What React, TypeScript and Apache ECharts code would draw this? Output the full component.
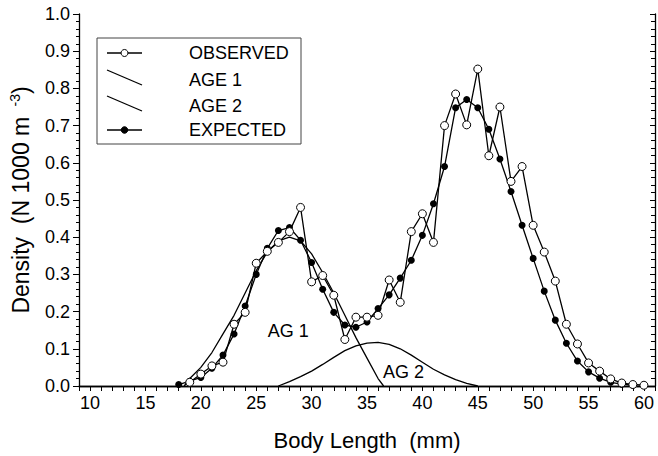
import React, { useEffect, useRef } from 'react';
import * as echarts from 'echarts';

const observedLengths = [19, 20, 21, 22, 23, 24, 25, 26, 27, 28, 29, 30, 31, 32, 33, 34, 35, 36, 37, 38, 39, 40, 41, 42, 43, 44, 45, 46, 47, 48, 49, 50, 51, 52, 53, 54, 55, 56, 57, 58, 59, 60];
const observedValues = [0.01, 0.032, 0.054, 0.064, 0.166, 0.198, 0.33, 0.362, 0.386, 0.415, 0.48, 0.28, 0.297, 0.244, 0.125, 0.185, 0.185, 0.19, 0.285, 0.225, 0.415, 0.463, 0.386, 0.70, 0.785, 0.702, 0.852, 0.619, 0.75, 0.55, 0.59, 0.432, 0.36, 0.282, 0.166, 0.113, 0.062, 0.04, 0.019, 0.008, 0.004, 0.002];

const expectedLengths = [18, 19, 20, 21, 22, 23, 24, 25, 26, 27, 28, 29, 30, 31, 32, 33, 34, 35, 36, 37, 38, 39, 40, 41, 42, 43, 44, 45, 46, 47, 48, 49, 50, 51, 52, 53, 54, 55, 56, 57, 58, 59];
const expectedValues = [0.004, 0.013, 0.023, 0.048, 0.083, 0.14, 0.215, 0.30, 0.37, 0.418, 0.426, 0.392, 0.332, 0.26, 0.198, 0.164, 0.158, 0.172, 0.208, 0.245, 0.29, 0.338, 0.405, 0.49, 0.59, 0.748, 0.77, 0.748, 0.69, 0.61, 0.523, 0.432, 0.343, 0.255, 0.177, 0.115, 0.067, 0.038, 0.021, 0.01, 0.005, 0.002];

const age1Lengths = [18.5, 19, 20, 21, 22, 23, 24, 25, 26, 27, 28, 29, 30, 31, 32, 33, 34, 35, 36, 36.5];
const age1Values = [0, 0.02, 0.05, 0.09, 0.14, 0.19, 0.25, 0.31, 0.36, 0.39, 0.40, 0.39, 0.355, 0.305, 0.25, 0.19, 0.13, 0.075, 0.02, 0];

const age2Lengths = [27, 28, 29, 30, 31, 32, 33, 34, 35, 36, 37, 38, 39, 40, 41, 42, 43, 44, 45];
const age2Values = [0, 0.012, 0.025, 0.04, 0.058, 0.077, 0.095, 0.108, 0.115, 0.117, 0.112, 0.1, 0.083, 0.064, 0.045, 0.03, 0.017, 0.007, 0];

const xLabelValues = [10, 15, 20, 25, 30, 35, 40, 45, 50, 55, 60];
const xTickValues = Array.from({ length: 53 }, (_, i) => 9 + i);

const legendLabels = ['OBSERVED', 'AGE 1', 'AGE 2', 'EXPECTED'];
const curveLabels = [
  { text: 'AG 1', x: 27.9, y: 0.147 },
  { text: 'AG 2', x: 38.3, y: 0.038 },
];

const FONT = "'Liberation Sans', Arial, sans-serif";

const pairs = (xs: number[], ys: number[]) => xs.map((x, i) => [x, ys[i]]);

export default function App() {
  const ref = useRef<HTMLDivElement>(null);
  useEffect(() => {
    const chart = echarts.init(ref.current!, null, { renderer: 'svg' });
    const lineStyle = { color: '#000', width: 1.3 };
    const legendRows = [53, 80, 106, 130];
    const legendGraphics: any[] = [
      { type: 'rect', shape: { x: 97, y: 38, width: 204, height: 106 }, style: { fill: '#fff', stroke: '#444', lineWidth: 1 } },
    ];
    legendLabels.forEach((t, i) => {
      const y = legendRows[i];
      legendGraphics.push({ type: 'text', x: 189, y, style: { text: t, fontSize: 18, fontFamily: FONT, fill: '#000', verticalAlign: 'middle' } });
      if (i === 0 || i === 3) {
        legendGraphics.push({ type: 'line', shape: { x1: 107, y1: y, x2: 142, y2: y }, style: { stroke: '#000', lineWidth: 1.3 } });
        legendGraphics.push({ type: 'circle', shape: { cx: 124.5, cy: y, r: i === 0 ? 3.5 : 3.3 }, style: { fill: i === 0 ? '#fff' : '#000', stroke: '#000', lineWidth: 1 } });
      } else {
        legendGraphics.push({ type: 'line', shape: { x1: 107, y1: y - 10, x2: 142, y2: y + 5 }, style: { stroke: '#000', lineWidth: 1.3 } });
      }
    });

    const option: any = {
      animation: false,
      backgroundColor: '#fff',
      grid: { left: 77, right: 3, top: 14, bottom: 69 },
      xAxis: [
        {
          type: 'value', min: 9, max: 61, position: 'bottom',
          name: 'Body Length  (mm)', nameLocation: 'middle', nameGap: 43,
          nameTextStyle: { fontSize: 22, fontFamily: FONT, color: '#000' },
          axisLine: { show: true, lineStyle: { color: '#000', width: 1.3 } },
          axisTick: { show: true, inside: false, length: 5, customValues: xTickValues, lineStyle: { color: '#000', width: 1 } },
          axisLabel: { show: true, customValues: xLabelValues, fontSize: 18, fontFamily: FONT, color: '#000', margin: 8 },
          splitLine: { show: false },
        },
        {
          type: 'value', min: 9, max: 61, position: 'top',
          axisLine: { show: true, lineStyle: { color: '#000', width: 1.3 } },
          axisTick: { show: true, inside: true, length: 5, customValues: xTickValues, lineStyle: { color: '#000', width: 1 } },
          axisLabel: { show: false },
          splitLine: { show: false },
        },
      ],
      yAxis: [
        {
          type: 'value', min: 0, max: 1, interval: 0.1, position: 'left',
          name: 'Density  (N 1000 m {sup| -3})', nameLocation: 'middle', nameGap: 46, nameRotate: 90,
          nameTextStyle: { fontSize: 23, fontFamily: FONT, color: '#000', lineHeight: 25, rich: { sup: { fontSize: 14, fontFamily: FONT, color: '#000', verticalAlign: 'top', lineHeight: 25 } } },
          axisLine: { show: true, lineStyle: { color: '#000', width: 1.3 } },
          axisTick: { show: true, inside: false, length: 6, lineStyle: { color: '#000', width: 1 } },
          minorTick: { show: true, splitNumber: 5, length: 3, lineStyle: { color: '#000', width: 1 } },
          axisLabel: { fontSize: 18, fontFamily: FONT, color: '#000', margin: 9, formatter: (v: number) => v.toFixed(1) },
          splitLine: { show: false },
        },
        {
          type: 'value', min: 0, max: 1, interval: 0.1, position: 'right',
          axisLine: { show: true, lineStyle: { color: '#000', width: 1.3 } },
          axisTick: { show: true, inside: true, length: 5, lineStyle: { color: '#000', width: 1 } },
          minorTick: { show: true, splitNumber: 5, length: 4, lineStyle: { color: '#000', width: 1 } },
          axisLabel: { show: false },
          splitLine: { show: false },
        },
      ],
      series: [
        { name: 'AGE 1', type: 'line', data: pairs(age1Lengths, age1Values), showSymbol: false, symbol: 'none', smooth: false, lineStyle, z: 2 },
        { name: 'AGE 2', type: 'line', data: pairs(age2Lengths, age2Values), showSymbol: false, symbol: 'none', smooth: false, lineStyle, z: 2 },
        { name: 'EXPECTED', type: 'line', data: pairs(expectedLengths, expectedValues), symbol: 'circle', symbolSize: 7, itemStyle: { color: '#000', borderColor: '#000', borderWidth: 0 }, lineStyle, z: 3 },
        { name: 'OBSERVED', type: 'line', data: pairs(observedLengths, observedValues), symbol: 'circle', symbolSize: 8, itemStyle: { color: '#fff', borderColor: '#000', borderWidth: 1 }, lineStyle, z: 4 },
        {
          name: 'labels', type: 'scatter', symbolSize: 0, silent: true, z: 5,
          itemStyle: { opacity: 1, color: '#000' },
          data: curveLabels.map((c) => ({ value: [c.x, c.y], name: c.text })),
          label: { show: true, position: 'inside', formatter: (p: any) => p.name, fontSize: 18, fontFamily: FONT, color: '#000', opacity: 1 },
        },
      ],
      graphic: legendGraphics,
    };
    chart.setOption(option);
    return () => chart.dispose();
  }, []);
  return <div ref={ref} style={{ position: 'fixed', left: 0, top: 0, width: 658, height: 456 }} />;
}
